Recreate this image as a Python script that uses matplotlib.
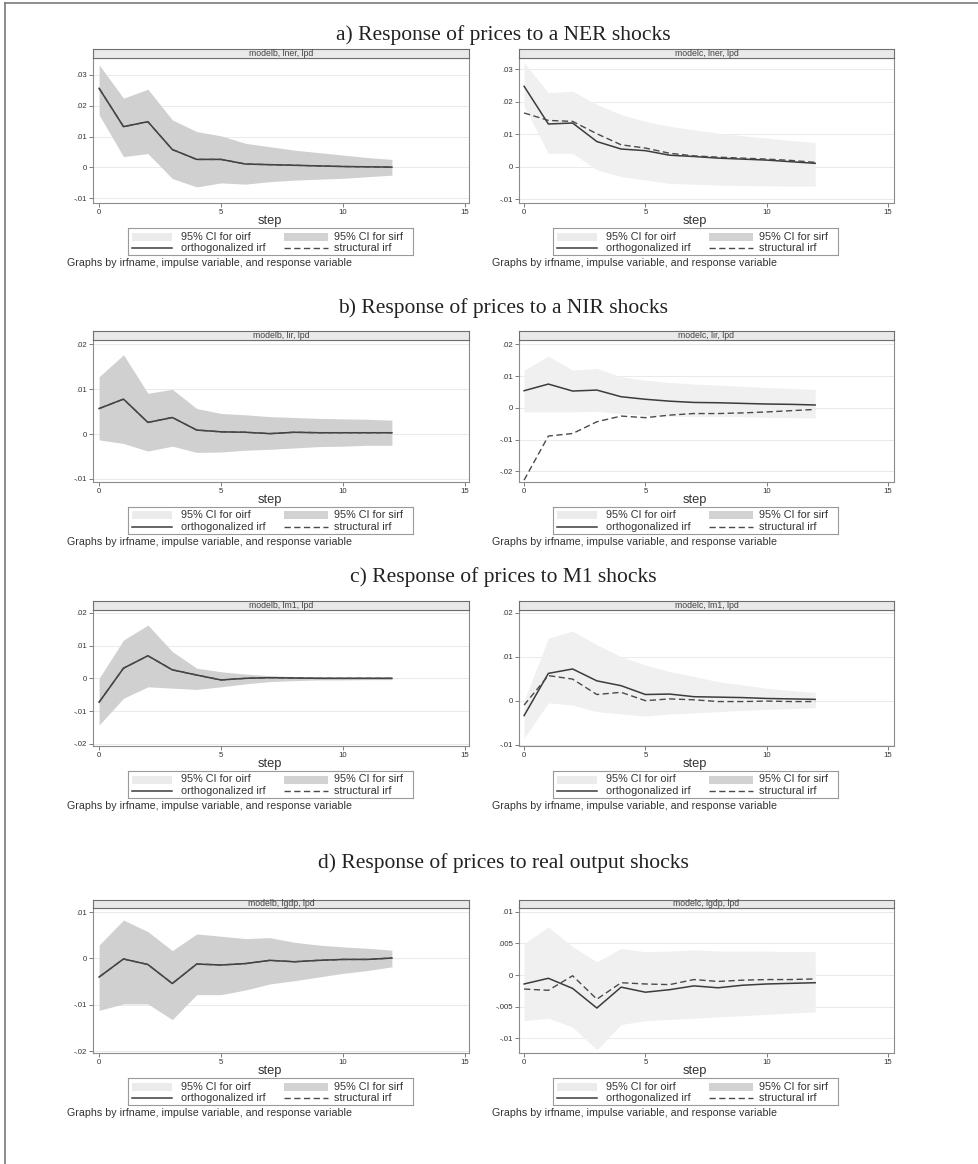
import matplotlib
matplotlib.use("Agg")
import matplotlib.pyplot as plt
from matplotlib.patches import Rectangle
from matplotlib.lines import Line2D

# ---------------------------------------------------------------- data
steps = list(range(13))

# a) NER shock -> prices
lner_b_irf = [.0256, .0132, .0148, .0058, .0026, .0026, .0011, .0009, .0007, .0005, .0003, .0002, .0001]
lner_b_lo = [.0170, .0035, .0045, -.0036, -.0063, -.0050, -.0054, -.0046, -.0041, -.0038, -.0035, -.0030, -.0025]
lner_b_hi = [.0332, .0224, .0253, .0154, .0116, .0102, .0078, .0067, .0056, .0048, .0040, .0032, .0026]
lner_c_oirf = [.0247, .0131, .0134, .0077, .0054, .0049, .0035, .0031, .0026, .0023, .0020, .0015, .0010]
lner_c_sirf = [.0165, .0142, .0139, .0101, .0067, .0057, .0041, .0033, .0029, .0026, .0023, .0019, .0013]
lner_c_lo = [.0186, .0041, .0041, -.0010, -.0031, -.0041, -.0052, -.0054, -.0057, -.0058, -.0059, -.0060, -.0060]
lner_c_hi = [.0320, .0227, .0232, .0191, .0160, .0139, .0124, .0113, .0103, .0095, .0088, .0080, .0074]

# b) NIR shock -> prices
lir_b_irf = [.0057, .0078, .0026, .0037, .0009, .0005, .0004, .0001, .0004, .0003, .0003, .0003, .0003]
lir_b_lo = [-.0013, -.0021, -.0038, -.0027, -.0041, -.0040, -.0036, -.0034, -.0031, -.0028, -.0027, -.0025, -.0025]
lir_b_hi = [.0128, .0177, .0091, .0100, .0057, .0046, .0043, .0039, .0037, .0035, .0034, .0033, .0031]
lir_c_oirf = [.0054, .0075, .0053, .0056, .0035, .0027, .0021, .0017, .0016, .0014, .0012, .0011, .0009]
lir_c_sirf = [-.0228, -.0089, -.0081, -.0044, -.0026, -.0031, -.0023, -.0018, -.0018, -.0016, -.0013, -.0009, -.0005]
lir_c_lo = [-.0013, -.0013, -.0013, -.0011, -.0018, -.0023, -.0026, -.0028, -.0028, -.0028, -.0030, -.0031, -.0032]
lir_c_hi = [.0119, .0163, .0119, .0124, .0098, .0087, .0080, .0075, .0072, .0068, .0064, .0061, .0058]

# c) M1 shock -> prices
lm1_b_irf = [-.0073, .0031, .0069, .0026, .0010, -.0005, .0000, .0002, .0001, .0000, .0000, .0000, .0000]
lm1_b_lo = [-.0143, -.0061, -.0026, -.0030, -.0034, -.0026, -.0017, -.0010, -.0007, -.0005, -.0005, -.0004, -.0004]
lm1_b_hi = [.0000, .0117, .0163, .0082, .0031, .0020, .0013, .0008, .0005, .0005, .0004, .0004, .0004]
lm1_c_oirf = [-.0034, .0062, .0072, .0045, .0034, .0014, .0015, .0009, .0008, .0007, .0005, .0004, .0003]
lm1_c_sirf = [-.0010, .0057, .0049, .0014, .0019, .0000, .0004, .0002, -.0002, -.0002, -.0001, -.0002, -.0002]
lm1_c_lo = [-.0085, -.0005, -.0010, -.0025, -.0030, -.0035, -.0030, -.0028, -.0025, -.0022, -.0020, -.0018, -.0016]
lm1_c_hi = [.0000, .0142, .0158, .0127, .0100, .0081, .0066, .0055, .0043, .0036, .0028, .0023, .0019]

# d) real output shock -> prices
lgdp_b_irf = [-.0040, -.0001, -.0013, -.0054, -.0012, -.0014, -.0011, -.0004, -.0007, -.0004, -.0002, -.0002, .0001]
lgdp_b_lo = [-.0112, -.0098, -.0098, -.0132, -.0078, -.0078, -.0068, -.0055, -.0048, -.0040, -.0032, -.0026, -.0018]
lgdp_b_hi = [.0029, .0083, .0058, .0017, .0053, .0048, .0043, .0045, .0035, .0029, .0025, .0022, .0018]
lgdp_c_oirf = [-.0014, -.0005, -.0021, -.0052, -.0019, -.0027, -.0023, -.0017, -.0020, -.0016, -.0014, -.0013, -.0012]
lgdp_c_sirf = [-.0022, -.0024, -.0001, -.0038, -.0012, -.0014, -.0015, -.0007, -.0010, -.0008, -.0007, -.0007, -.0006]
lgdp_c_lo = [-.0072, -.0068, -.0082, -.0118, -.0078, -.0072, -.0070, -.0068, -.0066, -.0064, -.0062, -.0060, -.0058]
lgdp_c_hi = [.0050, .0076, .0045, .0021, .0042, .0037, .0038, .0040, .0038, .0038, .0038, .0037, .0037]

titles = ["a) Response of prices to a NER shocks",
          "b) Response of prices to a NIR shocks",
          "c) Response of prices to M1 shocks",
          "d) Response of prices to real output shocks"]
strip_labels = [["modelb, lner, lpd", "modelc, lner, lpd"],
                ["modelb, lir, lpd", "modelc, lir, lpd"],
                ["modelb, lm1, lpd", "modelc, lm1, lpd"],
                ["modelb, lgdp, lpd", "modelc, lgdp, lpd"]]
yticks = [[[-.01, 0, .01, .02, .03], [-.01, 0, .01, .02, .03]],
          [[-.01, 0, .01, .02], [-.02, -.01, 0, .01, .02]],
          [[-.02, -.01, 0, .01, .02], [-.01, 0, .01, .02]],
          [[-.02, -.01, 0, .01], [-.01, -.005, 0, .005, .01]]]
xticks = [0, 5, 10, 15]
legend_labels = ["95% CI for oirf", "95% CI for sirf", "orthogonalized irf", "structural irf"]
note_text = "Graphs by irfname, impulse variable, and response variable"

# (oirf, sirf, lo, hi) per panel; model b has identical oirf/sirf
panel_data = [
    [(lner_b_irf, lner_b_irf, lner_b_lo, lner_b_hi), (lner_c_oirf, lner_c_sirf, lner_c_lo, lner_c_hi)],
    [(lir_b_irf, lir_b_irf, lir_b_lo, lir_b_hi), (lir_c_oirf, lir_c_sirf, lir_c_lo, lir_c_hi)],
    [(lm1_b_irf, lm1_b_irf, lm1_b_lo, lm1_b_hi), (lm1_c_oirf, lm1_c_sirf, lm1_c_lo, lm1_c_hi)],
    [(lgdp_b_irf, lgdp_b_irf, lgdp_b_lo, lgdp_b_hi), (lgdp_c_oirf, lgdp_c_sirf, lgdp_c_lo, lgdp_c_hi)],
]

# ---------------------------------------------------------------- layout (pixels)
W, H = 979, 1164
SANS = "Liberation Sans"
SERIF = "Liberation Serif"

rows = [dict(tb=40, strip=49, top=58, bottom=203),
        dict(tb=313, strip=331, top=340, bottom=482),
        dict(tb=582, strip=601, top=610, bottom=746),
        dict(tb=868, strip=900, top=908, bottom=1053)]
cols = [dict(x0=93, x1=469, xlim=(-0.25, 15.16), center=270, note_x=67, leg_x=128),
        dict(x0=519, x1=894, xlim=(-0.21, 15.25), center=695, note_x=492, leg_x=553)]
ylims = [[(-.0115, .0354), (-.0112, .0334)],
         [(-.0107, .0210), (-.0234, .0214)],
         [(-.0207, .0209), (-.0103, .0206)],
         [(-.0204, .0109), (-.0123, .0106)]]

LINE = "#3c3c3c"
BAND_DARK = "#d0d0d0"
BAND_LIGHT = "#f0f0f0"
FRAME = "#8c8c8c"
TXT = "#333333"

fig = plt.figure(figsize=(W / 100, H / 100), dpi=100)


def box(x0, y0, x1, y1):
    return [x0 / W, 1 - y1 / H, (x1 - x0) / W, (y1 - y0) / H]


def fy(y):
    return 1 - y / H


def fx(x):
    return x / W


def stata_fmt(v):
    if v == 0:
        return "0"
    s = f"{v:g}"
    return s.replace("0.", ".")


# page frame
fig.add_artist(Line2D([fx(5), 1.0], [fy(3), fy(3)], color="#7a7a7a", lw=1.2))
fig.add_artist(Line2D([fx(5), fx(5)], [fy(3), 0.0], color="#7a7a7a", lw=1.2))

for r, row in enumerate(rows):
    fig.text(fx(503), fy(row["tb"]), titles[r], ha="center", va="baseline",
             fontsize=15.5, family=SERIF, color="#222222")
    for c, col in enumerate(cols):
        oirf, sirf, lo, hi = panel_data[r][c]
        ax = fig.add_axes(box(col["x0"], row["top"], col["x1"], row["bottom"]))
        if c == 0:
            ax.fill_between(steps, lo, hi, color=BAND_DARK, lw=0, zorder=2)
        else:
            ax.fill_between(steps, lo, hi, color=BAND_LIGHT, lw=0, zorder=2)
        ax.plot(steps, oirf, color=LINE, lw=1.1, zorder=3)
        ax.plot(steps, sirf, color="#4a4a4a", lw=1.0, ls=(0, (4.5, 2.5)), zorder=4)
        ax.set_xlim(*col["xlim"])
        ax.set_ylim(*ylims[r][c])
        ax.set_xticks(xticks)
        ax.set_xticklabels([str(t) for t in xticks])
        yt = yticks[r][c]
        ax.set_yticks(yt)
        ax.set_yticklabels([stata_fmt(v) for v in yt])
        ax.yaxis.grid(True, color="#e6e6e6", lw=0.6, zorder=1)
        ax.set_axisbelow(True)
        ax.tick_params(direction="out", length=3, width=0.6, colors="#666666",
                       labelcolor=TXT, labelsize=5.6, pad=1.5)
        for lab in ax.get_xticklabels() + ax.get_yticklabels():
            lab.set_family(SANS)
        for sp in ax.spines.values():
            sp.set_color(FRAME)
            sp.set_linewidth(0.8)

        # strip header
        sx = fig.add_axes(box(col["x0"], row["strip"], col["x1"], row["top"]))
        sx.set_facecolor("#e9e9e9")
        sx.set_xticks([])
        sx.set_yticks([])
        for sp in sx.spines.values():
            sp.set_color("#6e6e6e")
            sp.set_linewidth(0.8)
        sx.text(0.5, 0.5, strip_labels[r][c], ha="center", va="center",
                fontsize=6.3, family=SANS, color="#444444", transform=sx.transAxes)

        b = row["bottom"]
        fig.text(fx(col["center"]), fy(b + 18), "step", ha="center", va="center",
                 fontsize=9.3, family=SANS, color=TXT)

        # legend block
        lx = col["leg_x"]
        lg = fig.add_axes(box(lx, b + 25, lx + 285, b + 52))
        lg.set_xlim(0, 285)
        lg.set_ylim(27, 0)
        lg.set_xticks([])
        lg.set_yticks([])
        for sp in lg.spines.values():
            sp.set_color("#9a9a9a")
            sp.set_linewidth(0.8)
        lg.add_patch(Rectangle((4, 4.5), 40, 8, color="#ebebeb", lw=0))
        lg.add_patch(Rectangle((156, 4.5), 44, 8, color="#d2d2d2", lw=0))
        lg.plot([4, 44], [20, 20], color=LINE, lw=1.1)
        lg.plot([156, 200], [20, 20], color="#4a4a4a", lw=1.0, ls=(0, (4.5, 2.5)))
        for (tx, ty), lab in zip([(53, 8.5), (206, 8.5), (53, 20), (206, 20)], legend_labels):
            lg.text(tx, ty, lab, ha="left", va="center", fontsize=7.8,
                    family=SANS, color=TXT)

        fig.text(fx(col["note_x"]), fy(b + 60), note_text, ha="left", va="center",
                 fontsize=7.7, family=SANS, color=TXT)

fig.savefig("out.png", dpi=100)
